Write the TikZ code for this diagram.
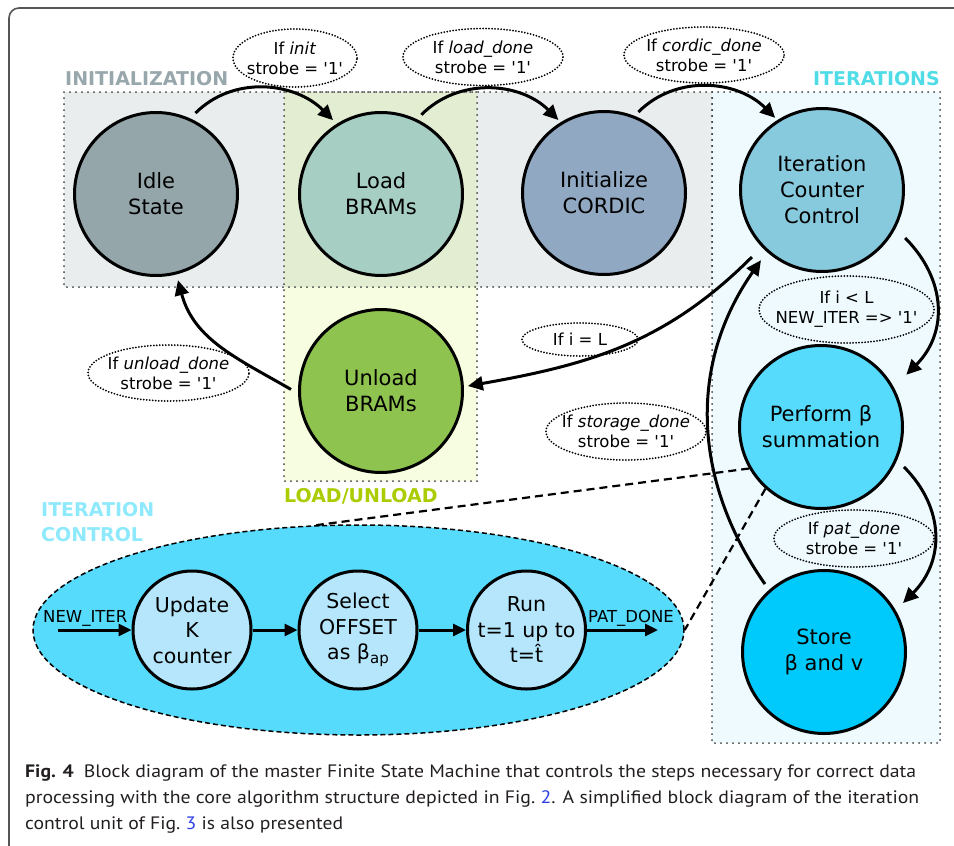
\documentclass[tikz,border=0pt]{standalone}
\usepackage{fontspec}
\usepackage{graphicx}
\setmainfont{DejaVu Sans}[Ligatures=TeXOff]
\newfontfamily\capfont{PT Sans}
\usetikzlibrary{arrows.meta,shapes.geometric,calc}
\definecolor{cIdle}{HTML}{95A6AB}
\definecolor{cLoad}{HTML}{A6CEC2}
\definecolor{cInit}{HTML}{90A8C2}
\definecolor{cIcc}{HTML}{87CADD}
\definecolor{cUnload}{HTML}{8FC34F}
\definecolor{cPerf}{HTML}{56DBFD}
\definecolor{cStore}{HTML}{00CAFC}
\definecolor{cSmall}{HTML}{B5E6FB}
\definecolor{cInitBg}{HTML}{E9EDEE}
\definecolor{cLoadTop}{HTML}{E3EDD2}
\definecolor{cLoadBot}{HTML}{F6FDE0}
\definecolor{cIterBg}{HTML}{EEFAFE}
\definecolor{tInit}{HTML}{97A7AB}
\definecolor{tIter}{HTML}{50DCE6}
\definecolor{tLoad}{HTML}{AACC00}
\definecolor{tCtl}{HTML}{8DE9FB}
\definecolor{cFrame}{HTML}{555555}
\definecolor{cCap}{HTML}{231F20}
\definecolor{cLink}{HTML}{2A3FE0}
\begin{document}
\begin{tikzpicture}[x=1pt,y=1pt,
  state/.style={circle, draw, line width=3pt, minimum size=163pt, inner sep=0pt, align=center, font=\fontsize{21}{26}\selectfont},
  smallst/.style={circle, draw, line width=3pt, minimum size=118pt, inner sep=0pt, fill=cSmall},
  smalltext/.style={align=center, inner sep=0pt, font=\fontsize{20.5}{25.5}\selectfont},
  labtext/.style={align=center, inner sep=0pt, font=\fontsize{16.5}{20}\selectfont},
  labdot/.style={draw=black, line width=2pt, dash pattern=on 0pt off 3pt, line cap=round},
  region/.style={draw=black!75, line width=2pt, dash pattern=on 0pt off 6pt, line cap=round},
  title/.style={inner sep=0pt, font=\fontsize{19}{25}\selectfont\bfseries},
  arr/.style={line width=3pt, -{Triangle[length=15pt,width=14pt]}},
  arrs/.style={line width=3pt, -{Triangle[length=13pt,width=12pt]}},
  dashline/.style={line width=2.2pt, dash pattern=on 8pt off 5pt},
  frame/.style={draw=cFrame, line width=1.6pt, rounded corners=10pt}]
\useasboundingbox (0,0) rectangle (954,-846);
\draw[frame] (9,-846) -- (9,-8) -- (954,-8);

% regions
\fill[cInitBg] (64,-92) rectangle (712,-287);
\fill[cLoadTop] (284,-92) rectangle (477,-287);
\fill[cLoadBot] (284,-287) rectangle (477,-481);
\fill[cIterBg] (712,-92) rectangle (940,-743);
\draw[region] (64,-92) rectangle (712,-287);
\draw[region] (284,-92) rectangle (477,-481);
\draw[region] (712,-92) rectangle (940,-743);

% region titles
\node[title, text=tInit, anchor=base west] (tinit) at (65,-85) {INITIALIZATION};
\node[title, text=tIter, anchor=base east] (titer) at (940,-85) {ITERATIONS};
\node[title, text=tLoad, anchor=base west] (tload) at (284,-502) {LOAD/UNLOAD};
\node[title, text=tCtl, anchor=base west] (tctl1) at (41,-516) {ITERATION};
\node[title, text=tCtl, anchor=base west] (tctl2) at (41,-541) {CONTROL};

% iteration control ellipse
\node[ellipse, draw, line width=1.5pt, dash pattern=on 5pt off 3pt, fill=cPerf,
      minimum width=651pt, minimum height=210pt, inner sep=0pt] (ctl) at (358.5,-630) {};

% states
\node[state, fill=cIdle] (idle) at (156,-194) {Idle\\State};
\node[state, fill=cLoad] (load) at (381,-194) {Load\\BRAMs};
\node[state, fill=cInit] (init) at (604,-193) {Initialize\\CORDIC};
\node[state, fill=cIcc] (icc) at (822,-190) {Iteration\\Counter\\Control};
\node[state, fill=cUnload] (unload) at (381,-391) {Unload\\BRAMs};
\node[state, fill=cPerf] (perf) at (821,-427) {Perform β\\summation};
\node[state, fill=cStore] (store) at (824,-652) {Store\\β and v};

% inner states
\node[smallst] (upd) at (192,-630) {};
\node[smallst] (sel) at (358,-630) {};
\node[smallst] (run) at (526.5,-630) {};
\node[smalltext] (updt) at (upd.center) {Update\\K\\counter};
\node[smalltext] (selt) at (sel.center) {Select\\OFFSET\\as β\raisebox{-0.35ex}{\fontsize{15}{15}\selectfont ap}};
\node[smalltext] (runt) at (run.center) {Run\\t=1 up to\\t=\^{t}};

\coordinate (nin) at (58,-630);
\coordinate (pout) at (658,-630);
\draw[arrs] (nin) -- (upd.west);
\draw[arrs] (upd.east) -- (sel.west);
\draw[arrs] (sel.east) -- (run.west);
\draw[arrs] (run.east) -- (pout);
\node[labtext, anchor=base west] (nlab) at (43,-622) {NEW\_ITER};
\node[labtext, anchor=base west] (plab) at (588,-622) {PAT\_DONE};

% dashed zoom lines
\draw[dashline] (perf.210) -- (ctl.112);
\draw[dashline] (perf.228) -- (ctl.east);

% condition labels
\node[labtext] (l1) at (295,-58) {If \textit{init}\\strobe = '1'};
\draw[labdot] (l1.center) ellipse [x radius=62, y radius=29];
\node[labtext] (l2) at (483,-57) {If \textit{load\_done}\\strobe = '1'};
\draw[labdot] (l2.center) ellipse [x radius=80, y radius=28.5];
\node[labtext] (l3) at (704,-55) {If \textit{cordic\_done}\\strobe = '1'};
\draw[labdot] (l3.center) ellipse [x radius=80, y radius=28];
\node[labtext] (l4) at (846.5,-309.5) {If i < L\\NEW\_ITER => '1'};
\draw[labdot] (l4.center) ellipse [x radius=87.5, y radius=33.5];
\node[labtext] (l5) at (580,-339.5) {If i = L};
\draw[labdot] (l5.center) ellipse [x radius=58, y radius=16.5];
\node[labtext] (l6) at (626,-431.5) {If \textit{storage\_done}\\strobe = '1'};
\draw[labdot] (l6.center) ellipse [x radius=80, y radius=28.5];
\node[labtext] (l7) at (854,-538.5) {If \textit{pat\_done}\\strobe = '1'};
\draw[labdot] (l7.center) ellipse [x radius=80, y radius=28.5];
\node[labtext] (l8) at (168.5,-373) {If \textit{unload\_done}\\strobe = '1'};
\draw[labdot] (l8.center) ellipse [x radius=80.5, y radius=28];

% transitions
\draw[arr] ($(idle)+(64:90)$) to[out=45,in=135] ($(load)+(123:88)$);
\draw[arr] ($(load)+(63:89)$) to[out=45,in=135] ($(init)+(122:86)$);
\draw[arr] ($(init)+(67:88)$) to[out=45,in=135] ($(icc)+(123:86)$);
\draw[arr] ($(icc)+(-30:96)$) to[out=-45,in=45,looseness=1.1] ($(perf)+(31.5:100)$);
\draw[arr] ($(perf)+(-25.7:92)$) to[out=-45,in=45,looseness=1.1] ($(store)+(31.8:93)$);
\draw[arr] ($(store)+(131:90)$) to[out=125,in=-125] ($(icc)+(-131:93)$);
\draw[arr] ($(icc)+(-136.3:97)$) to[out=225,in=10] ($(unload)+(3.3:87)$);
\draw[arr] ($(unload)+(179:90)$) to[out=150,in=-75] ($(idle)+(-75.7:89)$);

% caption
\node[anchor=base west, inner sep=0pt, text=cCap] (cap1) at (25,-777)
  {\resizebox{891pt}{\height}{\capfont\fontsize{18}{20}\selectfont\textbf{Fig. 4}\enspace Block diagram of the master Finite State Machine that controls the steps necessary for correct data}};
\node[anchor=base west, inner sep=0pt, text=cCap] (cap2) at (25,-803)
  {\resizebox{894pt}{\height}{\capfont\fontsize{18}{20}\selectfont processing with the core algorithm structure depicted in Fig.~\textcolor{cLink}{2}. A simplified block diagram of the iteration}};
\node[anchor=base west, inner sep=0pt, text=cCap] (cap3) at (25,-829)
  {\resizebox{318pt}{\height}{\capfont\fontsize{18}{20}\selectfont control unit of Fig.~\textcolor{cLink}{3} is also presented}};
\end{tikzpicture}
\end{document}
